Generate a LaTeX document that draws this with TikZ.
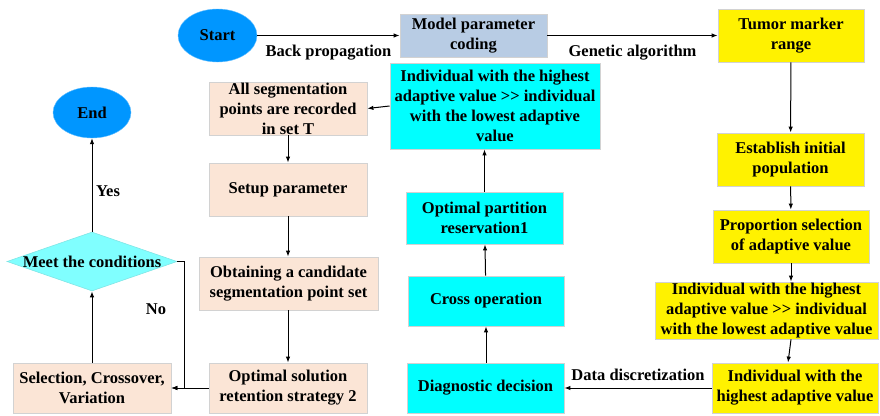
\documentclass[tikz,border=0pt]{standalone}
\usepackage{fontspec}
\setmainfont{Liberation Serif}
\usepackage{tikz}
\usetikzlibrary{arrows.meta, shapes.geometric, calc}

\definecolor{ovalblue}{HTML}{0096FF}
\definecolor{peach}{HTML}{FBE5D6}
\definecolor{steel}{HTML}{B8CCE4}
\definecolor{brightcyan}{HTML}{00FFFF}
\definecolor{lightcyan}{HTML}{80FFFF}

\tikzset{
    txt/.style={font=\bfseries\fontsize{16.5}{20}\selectfont, align=center, inner sep=0pt},
    box/.style={txt, draw=gray!35, line width=0.8pt, rectangle},
    oval/.style={txt, ellipse, fill=ovalblue, draw=ovalblue!60},
    peachbox/.style={box, fill=peach},
    cyanbox/.style={box, fill=brightcyan},
    yellowbox/.style={box, fill=yellow},
    cond/.style={txt, diamond, fill=lightcyan, draw=lightcyan!80!gray, line width=0.6pt},
    flow/.style={-{Latex[length=6pt,width=4.5pt]}, line width=1pt},
}

\begin{document}
\begin{tikzpicture}[x=1pt, y=-1pt]
        \useasboundingbox (0,0) rectangle (880,415);

        \node[oval, minimum width=79pt, minimum height=53pt] (start) at (217.5,35.5) {Start};
        \node[box, fill=steel, minimum width=147pt, minimum height=43pt] (model) at (473.5,35.5) {Model parameter\\coding};
        \node[yellowbox, minimum width=146pt, minimum height=53pt] (tumor) at (791,35.5) {Tumor marker\\range};
        \node[yellowbox, minimum width=147pt, minimum height=53pt] (establish) at (790.5,159.5) {Establish initial\\population};
        \node[yellowbox, minimum width=156pt, minimum height=53pt] (propsel) at (791,236.5) {Proportion selection\\of adaptive value};
        \node[yellowbox, minimum width=223pt, minimum height=57pt] (best2) at (766.5,310.5) {Individual with the highest\\adaptive value >\kern0pt> individual\\with the lowest adaptive value};
        \node[yellowbox, minimum width=166pt, minimum height=50pt] (best3) at (795,388) {Individual with the\\highest adaptive value};

        \node[cyanbox, minimum width=157pt, minimum height=50pt] (diag) at (485.5,388) {Diagnostic decision};
        \node[cyanbox, minimum width=156pt, minimum height=50pt] (cross) at (486,301) {Cross operation};
        \node[cyanbox, minimum width=157pt, minimum height=52pt] (optpart) at (484.5,218) {Optimal partition\\reservation1};
        \node[cyanbox, minimum width=210pt, minimum height=86pt] (best1) at (495,106) {Individual with the highest\\adaptive value >\kern0pt> individual\\with the lowest adaptive\\value};

        \node[peachbox, minimum width=158pt, minimum height=53pt] (allseg) at (288,108.5) {All segmentation\\points are recorded\\in set T};
        \node[peachbox, minimum width=158pt, minimum height=53pt] (setup) at (288,189.5) {Setup parameter};
        \node[peachbox, minimum width=179pt, minimum height=53pt] (obtain) at (288.5,283.5) {Obtaining a candidate\\segmentation point set};
        \node[peachbox, minimum width=158pt, minimum height=50pt] (optsol) at (288,388) {Optimal solution\\retention strategy 2};
        \node[peachbox, minimum width=158pt, minimum height=50pt] (select) at (92,388) {Selection, Crossover,\\Variation};

        \node[cond, minimum width=170pt, minimum height=59pt] (meet) at (92,261.5) {\makebox[0pt]{Meet the conditions}};
        \node[oval, minimum width=78pt, minimum height=51pt] (end) at (92,112.5) {End};

        % top row
        \draw[flow] (start) -- (model) node[txt, midway, below=9pt] {Back propagation};
        \draw[flow] (model) -- (tumor) node[txt, midway, below=9pt] {Genetic algorithm};

        % right column
        \draw[flow] (tumor) -- (establish);
        \draw[flow] (establish) -- (propsel);
        \draw[flow] (propsel.south) -- (propsel.south |- best2.north);
        \draw[flow] (propsel.south |- best2.south) -- ($(best3.north)+(-7,0)$);
        \draw[flow] (best3) -- (diag) node[txt, midway, above=7pt] {Data discretization};

        % middle column
        \draw[flow] (diag.north -| cross) -- (cross);
        \draw[flow] (cross) -- (optpart);
        \draw[flow] (optpart.north) -- (optpart.north |- best1.south);
        \draw[flow] (best1.west) -- (allseg.east);

        % left column
        \draw[flow] (allseg) -- (setup);
        \draw[flow] (setup) -- (setup.south |- obtain.north);
        \draw[flow] (obtain.south -| optsol) -- (optsol);
        \draw[flow] (optsol) -- (select);
        \draw[flow] (meet.east) -- ++(7,0) |- (select.east);
        \node[txt] (no) at (156,309) {No};
        \draw[flow] (select) -- (meet);
        \draw[flow] (meet) -- (end);
        \node[txt] (yes) at (108,191) {Yes};
    \end{tikzpicture}
\end{document}
